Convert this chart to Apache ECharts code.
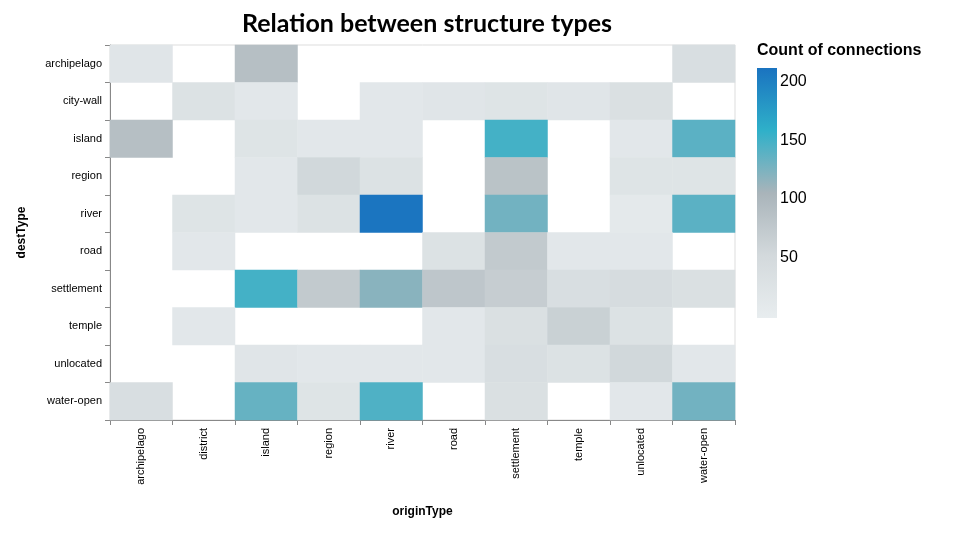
<!DOCTYPE html>
<html><head><meta charset="utf-8">
<script src="https://cdn.jsdelivr.net/npm/echarts@6/dist/echarts.min.js"></script>
<style>html,body{margin:0;background:#fff}#main{width:962px;height:536px}</style>
</head><body><div id="main"></div>
<script>
var types = ['archipelago','city-wall','district','island','region','river','road','settlement','temple','unlocated','water-open'];
var originTypes = ['archipelago','district','island','region','river','road','settlement','temple','unlocated','water-open'];
var destTypes = ['archipelago','city-wall','island','region','river','road','settlement','temple','unlocated','water-open'];
// rows = destType, columns = originType (null = no connection)
var counts = [
  [20, null, 90, null, null, null, null, null, null, 40],
  [null, 30, 15, null, 15, 20, 25, 20, 35, null],
  [90, null, 25, 15, 15, null, 150, null, 15, 140],
  [null, null, 15, 55, 30, null, 85, null, 25, 25],
  [null, 25, 15, 30, 210, null, 130, null, 10, 140],
  [null, 15, null, null, null, 30, 75, 15, 15, null],
  [null, null, 150, 75, 120, 80, 70, 40, 45, 35],
  [null, 15, null, null, null, 15, 35, 65, 30, null],
  [null, null, 20, 15, 15, 15, 40, 30, 55, 15],
  [40, null, 135, 25, 145, null, 35, null, 15, 130]
];
var legendTicks = [200, 150, 100, 50];
var colorStops = ['#e8edef', '#d3d9dc', '#a9b4ba', '#2fb0c9', '#1a73c0'];
var vMin = 0, vMax = 212;

var data = [];
counts.forEach(function (row, r) {
  row.forEach(function (v, c) { if (v != null) data.push([c, r, v]); });
});

var barTop = 68, barBottom = 318;
var graphics = [
  {type:'text', left:757, top:43, style:{text:'Count of connections', font:'bold 16px "Liberation Sans", Arial', fill:'#000'}},
  {type:'rect', shape:{x:757, y:barTop, width:20, height:barBottom-barTop},
   style:{fill:new echarts.graphic.LinearGradient(0,1,0,0, colorStops.map(function(c,i){return {offset:i/(colorStops.length-1), color:c};}))}}
];
legendTicks.forEach(function (t) {
  var y = barBottom - (t - vMin) / (vMax - vMin) * (barBottom - barTop);
  graphics.push({type:'text', left:780, top:y-9, style:{text:String(t), font:'16px "Liberation Sans", Arial', fill:'#000'}});
});

var chart = echarts.init(document.getElementById('main'));
chart.setOption({
  backgroundColor:'#fff',
  title:{text:'Relation between structure types', left:422, top:6, textAlign:'center',
    textStyle:{fontFamily:'Lato, "Open Sans", sans-serif', fontWeight:'bold', fontSize:25, color:'#000'}},
  grid:{left:110, right:227, top:45, bottom:116, show:true, borderColor:'#ddd', borderWidth:1},
  xAxis:{type:'category', data:originTypes, name:'originType', nameLocation:'middle', nameGap:86,
    nameTextStyle:{fontWeight:'bold', fontSize:12, color:'#000', fontFamily:'"Liberation Sans", Arial'},
    axisLine:{lineStyle:{color:'#888'}}, axisTick:{show:true, lineStyle:{color:'#888'}},
    axisLabel:{rotate:90, fontSize:11, color:'#000', fontFamily:'"Liberation Sans", Arial'},
    splitArea:{show:false}},
  yAxis:{type:'category', data:destTypes, inverse:true, name:'destType', nameLocation:'middle', nameGap:82,
    nameTextStyle:{fontWeight:'bold', fontSize:12, color:'#000', fontFamily:'"Liberation Sans", Arial'},
    axisLine:{lineStyle:{color:'#888'}}, axisTick:{show:true, lineStyle:{color:'#888'}},
    axisLabel:{fontSize:11, color:'#000', fontFamily:'"Liberation Sans", Arial'}},
  visualMap:{show:false, min:vMin, max:vMax, dimension:2, inRange:{color:colorStops}},
  graphic:graphics,
  series:[{type:'heatmap', data:data, itemStyle:{borderWidth:0}}]
});
</script></body></html>
